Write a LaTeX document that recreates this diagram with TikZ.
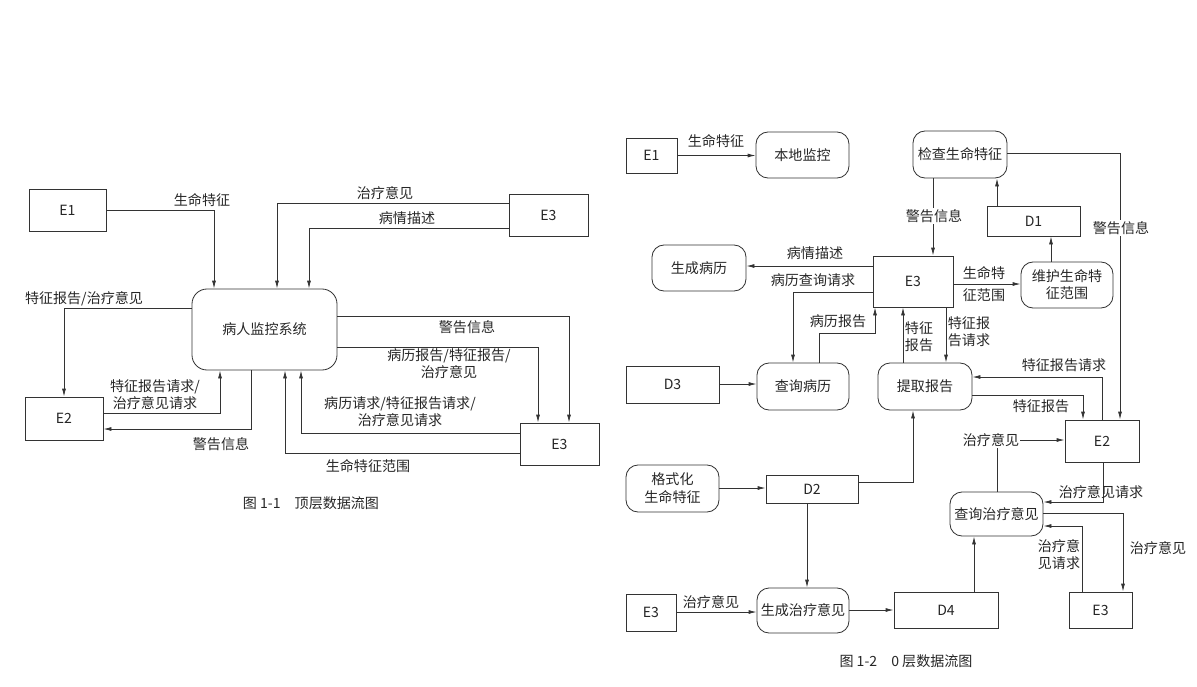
\documentclass[tikz,border=0pt]{standalone}
\usepackage{fontspec}
\setmainfont{Noto Sans CJK SC}
\usetikzlibrary{arrows.meta}
\definecolor{DFDLine}{HTML}{333333}
\definecolor{DFDText}{HTML}{262626}

\begin{document}
\begin{tikzpicture}[x=0.03cm,y=-0.03cm,
  ent/.style={draw=DFDLine,line width=0.7pt,text=DFDText,font=\fontsize{12}{14.5}\selectfont,inner sep=0pt,align=center},
  proc/.style={ent,rounded corners=0.36cm},
  lbl/.style={text=DFDText,font=\fontsize{12}{14.5}\selectfont,inner sep=1pt,align=center},
  flow/.style={draw=DFDLine,line width=0.7pt,-{Latex[length=2.4mm,width=1.2mm]}}]
\path[use as bounding box] (0,0) rectangle (1197,686);
% top level
\node[ent,minimum width=2.31cm,minimum height=1.26cm] (le1) at (67.5,210) {E1};
\node[proc,rounded corners=0.45cm,minimum width=4.35cm,minimum height=2.43cm] (lsys) at (264.5,329.5) {病人监控系统};
\node[ent,minimum width=2.34cm,minimum height=1.29cm] (le2) at (64,418.5) {E2};
\node[ent,minimum width=2.37cm,minimum height=1.26cm] (le3a) at (548.5,215) {E3};
\node[ent,minimum width=2.37cm,minimum height=1.26cm] (le3b) at (559.5,444) {E3};
\draw[flow] (le1.east) -| (lsys.north -| 214,0);
\draw[flow] (lsys.west |- 0,308) -| (le2.north -| 64,0);
\draw[flow] (le2.east |- 0,413) -| (lsys.south -| 220,0);
\draw[flow] (lsys.south -| 251,0) |- (le2.east |- 0,429);
\draw[flow] (le3a.west |- 0,203) -| (lsys.north -| 277,0);
\draw[flow] (le3a.west |- 0,228) -| (lsys.north -| 309,0);
\draw[flow] (lsys.east |- 0,316) -| (le3b.north -| 569,0);
\draw[flow] (lsys.east |- 0,347) -| (le3b.north -| 538,0);
\draw[flow] (le3b.west |- 0,433) -| (lsys.south -| 301,0);
\draw[flow] (le3b.west |- 0,453) -| (lsys.south -| 285,0);
\node[lbl] (ll1) at (202,200) {生命特征};
\node[lbl] (ll2) at (84,299) {特征报告/治疗意见};
\node[lbl] (ll3) at (155,395) {特征报告请求/\\治疗意见请求};
\node[lbl] (ll4) at (221,444) {警告信息};
\node[lbl] (ll5) at (385,193) {治疗意见};
\node[lbl] (ll6) at (407,218) {病情描述};
\node[lbl] (ll7) at (467,327) {警告信息};
\node[lbl] (ll8) at (449,364) {病历报告/特征报告/\\治疗意见};
\node[lbl] (ll9) at (400,412) {病历请求/特征报告请求/\\治疗意见请求};
\node[lbl] (ll10) at (368,466) {生命特征范围};
\node[lbl] (cap1) at (311,503) {图 1-1\quad 顶层数据流图};
% level 0
\node[ent,minimum width=1.53cm,minimum height=1.05cm] (re1) at (651.5,155.5) {E1};
\node[proc,minimum width=2.79cm,minimum height=1.38cm] (rp1) at (802.5,155) {本地监控};
\node[proc,minimum width=2.82cm,minimum height=1.41cm] (rp2) at (960,154.5) {检查生命特征};
\node[ent,minimum width=2.79cm,minimum height=0.9cm] (rd1) at (1033.5,221) {D1};
\node[proc,minimum width=2.82cm,minimum height=1.38cm] (rp3) at (699,268) {生成病历};
\node[ent,minimum width=2.4cm,minimum height=1.53cm] (re3) at (913,281.5) {E3};
\node[proc,minimum width=2.76cm,minimum height=1.38cm] (rp4) at (1067,285) {维护生命特\\征范围};
\node[ent,minimum width=2.79cm,minimum height=1.11cm] (rd3) at (672.5,384.5) {D3};
\node[proc,minimum width=2.76cm,minimum height=1.41cm] (rp5) at (803,386.5) {查询病历};
\node[proc,minimum width=2.82cm,minimum height=1.41cm] (rp6) at (925,386.5) {提取报告};
\node[ent,minimum width=2.22cm,minimum height=1.26cm] (re2) at (1102,441) {E2};
\node[proc,minimum width=2.79cm,minimum height=1.41cm] (rp7) at (672.5,488.5) {格式化\\[1pt]生命特征};
\node[ent,minimum width=2.76cm,minimum height=0.84cm] (rd2) at (812,489) {D2};
\node[proc,minimum width=2.79cm,minimum height=1.32cm] (rp8) at (996.5,514) {查询治疗意见};
\node[ent,minimum width=1.5cm,minimum height=1.11cm] (re3b) at (651,612.5) {E3};
\node[proc,minimum width=2.76cm,minimum height=1.35cm] (rp9) at (803,610.5) {生成治疗意见};
\node[ent,minimum width=3.12cm,minimum height=1.08cm] (rd4) at (946,610) {D4};
\node[ent,minimum width=1.89cm,minimum height=1.08cm] (re3c) at (1100.5,610) {E3};
\draw[flow] (re1.east) -- (re1.east -| rp1.west);
\draw[flow] (re3.west |- 0,266) -- (rp3.east |- 0,266);
\draw[flow] (re3.west |- 0,292) -| (rp5.north -| 793,0);
\draw[flow] (rp5.north -| 819,0) -- (819,333) -- (875,333) -- (re3.south -| 875,0);
\draw[flow] (rp6.north -| 903,0) -- (re3.south -| 903,0);
\draw[flow] (re3.south -| 946,0) -- (rp6.north -| 946,0);
\draw[flow] (re3.east |- 0,284) -- (rp4.west |- 0,284);
\draw[flow] (rp4.north -| 1051,0) -- (rd1.south -| 1051,0);
\draw[flow] (rd1.north -| 997,0) -- (rp2.south -| 997,0);
\draw[flow] (rp2.south -| 933,0) -- (re3.north -| 933,0);
\draw[flow] (rp2.east |- 0,153) -| (re2.north -| 1120,0);
\draw[flow] (re2.north -| 1102,0) |- (rp6.east |- 0,377);
\draw[flow] (rp6.east |- 0,395) -| (re2.north -| 1083,0);
\draw[flow] (rp8.north -| 997,0) |- (re2.west |- 0,440);
\draw[flow] (rd2.east |- 0,482) -| (rp6.south -| 913,0);
\draw[flow] (rp7.east |- 0,488) -- (rd2.west |- 0,488);
\draw[flow] (rd2.south -| 807,0) -- (rp9.north -| 807,0);
\draw[flow] (re3b.east |- 0,612) -- (rp9.west |- 0,612);
\draw[flow] (rp9.east |- 0,610) -- (rd4.west |- 0,610);
\draw[flow] (rd4.north -| 974,0) -- (rp8.south -| 974,0);
\draw[flow] (re2.south -| 1103,0) |- (rp8.east |- 0,502);
\draw[flow] (rp8.east |- 0,513) -| (re3c.north -| 1123,0);
\draw[flow] (re3c.north -| 1082,0) |- (rp8.east |- 0,526);
\draw[flow] (rd3.east |- 0,384) -- (rp5.west |- 0,384);
\node[lbl] (rl1) at (716,141) {生命特征};
\node[lbl] (rl2) at (815,253) {病情描述};
\node[lbl] (rl3) at (813,280) {病历查询请求};
\node[lbl] (rl4) at (838,321) {病历报告};
\node[lbl] (rl5) at (919,337) {特征\\报告};
\node[lbl] (rl6) at (969,332) {特征报\\告请求};
\node[lbl] (rl7) at (984,284) {生命特\\[5pt]征范围};
\node[lbl,fill=white] (rl8) at (934,216) {警告信息};
\node[lbl,fill=white] (rl9) at (1121,228) {警告信息};
\node[lbl] (rl10) at (1064,365) {特征报告请求};
\node[lbl] (rl11) at (1041,406) {特征报告};
\node[lbl,fill=white] (rl12) at (991,440) {治疗意见};
\node[lbl] (rl13) at (711,602) {治疗意见};
\node[lbl] (rl14) at (1101,492) {治疗意见请求};
\node[lbl] (rl15) at (1158,548) {治疗意见};
\node[lbl] (rl16) at (1059,555) {治疗意\\见请求};
\node[lbl] (cap2) at (906,661) {图 1-2\quad 0 层数据流图};
\end{tikzpicture}
\end{document}
